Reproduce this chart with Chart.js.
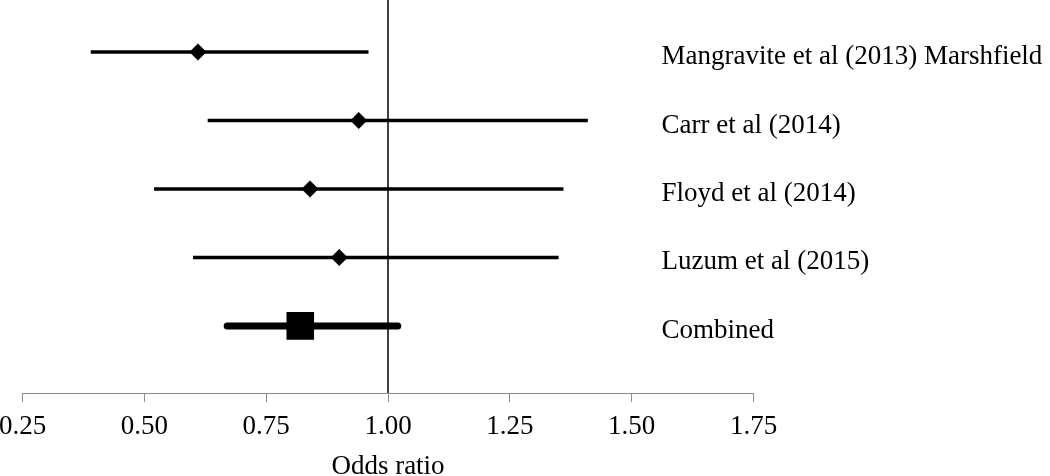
<!DOCTYPE html>
<html>
<head>
<meta charset="utf-8">
<script src="https://cdn.jsdelivr.net/npm/chart.js@4/dist/chart.umd.min.js"></script>
<style>
  html, body { margin: 0; padding: 0; background: #fff; overflow: hidden; }
  #wrap { position: relative; width: 1050px; height: 476px; }
</style>
</head>
<body>
<div id="wrap"><canvas id="forest"></canvas></div>
<script>
// study names, top to bottom
const studies = ['Mangravite et al (2013) Marshfield', 'Carr et al (2014)', 'Floyd et al (2014)', 'Luzum et al (2015)', 'Combined'];
// odds ratio and 95% CI
const oddsRatio = [0.61, 0.94, 0.84, 0.90, 0.82];
const lowerCI = [0.39, 0.63, 0.52, 0.60, 0.67];
const upperCI = [0.96, 1.41, 1.36, 1.35, 1.02];
const xTicks = [0.25, 0.50, 0.75, 1.00, 1.25, 1.50, 1.75];

const serif = '"Liberation Serif", "Times New Roman", serif';
const rowPos = studies.map((s, i) => studies.length - i); // 5..1

const datasets = [];

// reference line at OR = 1
datasets.push({
  data: [{ x: 1, y: 0.02 }, { x: 1, y: 5.76 }],
  showLine: true,
  borderColor: '#000',
  borderWidth: 1.5,
  pointRadius: 0
});

// confidence interval lines
studies.forEach((name, i) => {
  const isCombined = i === studies.length - 1;
  datasets.push({
    data: [{ x: lowerCI[i], y: rowPos[i] }, { x: upperCI[i], y: rowPos[i] }],
    showLine: true,
    borderColor: '#000',
    borderWidth: isCombined ? 7 : 3.5,
    borderCapStyle: isCombined ? 'round' : 'butt',
    pointRadius: 0
  });
});

// point estimates (diamonds, square for combined)
datasets.push({
  data: oddsRatio.map((v, i) => ({ x: v, y: rowPos[i] })),
  showLine: false,
  pointStyle: studies.map((s, i) => i === studies.length - 1 ? 'rect' : 'rectRot'),
  pointRadius: studies.map((s, i) => i === studies.length - 1 ? 19.5 : 8.5),
  pointBackgroundColor: '#000',
  pointBorderWidth: 0
});

// write study names next to each row
const studyLabels = {
  id: 'studyLabels',
  afterDatasetsDraw(chart) {
    const ctx = chart.ctx;
    const yScale = chart.scales.y;
    ctx.save();
    ctx.font = '27px ' + serif;
    ctx.fillStyle = '#000';
    ctx.textAlign = 'left';
    ctx.textBaseline = 'alphabetic';
    studies.forEach((name, i) => {
      ctx.fillText(name, chart.chartArea.right - 92, yScale.getPixelForValue(rowPos[i]) + 12);
    });
    ctx.restore();
  }
};

new Chart(document.getElementById('forest'), {
  type: 'scatter',
  data: { datasets: datasets },
  plugins: [studyLabels],
  options: {
    responsive: true,
    maintainAspectRatio: false,
    animation: false,
    layout: { autoPadding: false, padding: { left: 22.5, right: 296.5, top: 0, bottom: 0 } },
    plugins: { legend: { display: false }, tooltip: { enabled: false } },
    scales: {
      x: {
        type: 'linear',
        min: 0.25,
        max: 1.75,
        afterBuildTicks: (scale) => { scale.ticks = xTicks.map(v => ({ value: v })); },
        afterFit: (scale) => {
          scale.height = 83;
          scale.paddingLeft = 0;
          scale.paddingRight = 0;
        },
        border: { color: '#8c8c8c', width: 1 },
        grid: { drawOnChartArea: false, drawTicks: true, tickLength: 9, color: '#8c8c8c' },
        ticks: {
          color: '#000',
          padding: 9,
          maxRotation: 0,
          font: { family: serif, size: 27 },
          callback: (v) => Number(v).toFixed(2)
        },
        title: {
          display: true,
          text: 'Odds ratio',
          color: '#000',
          font: { family: serif, size: 27, lineHeight: 1 },
          padding: { top: 0, bottom: -4 }
        }
      },
      y: {
        type: 'linear',
        display: false,
        min: 0.02,
        max: 5.76
      }
    }
  }
});
</script>
</body>
</html>
